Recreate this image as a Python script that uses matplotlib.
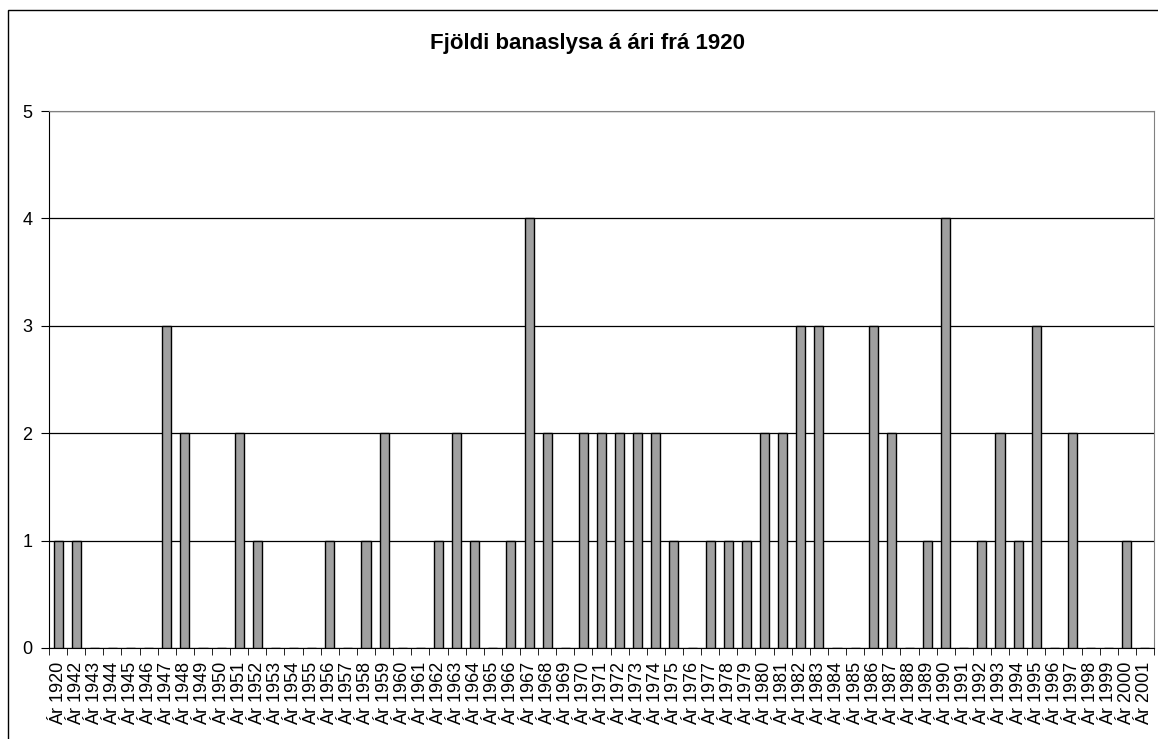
import matplotlib.pyplot as plt
from matplotlib.patches import Rectangle
import numpy as np

years = [1920] + list(range(1942, 2002))
labels = [f"Ár {y}" for y in years]

deaths = {1920: 1, 1942: 1, 1947: 3, 1948: 2, 1951: 2, 1952: 1, 1956: 1,
          1958: 1, 1959: 2, 1962: 1, 1963: 2, 1964: 1, 1966: 1, 1967: 4,
          1968: 2, 1970: 2, 1971: 2, 1972: 2, 1973: 2, 1974: 2, 1975: 1,
          1977: 1, 1978: 1, 1979: 1, 1980: 2, 1981: 2, 1982: 3, 1983: 3,
          1986: 3, 1987: 2, 1989: 1, 1990: 4, 1992: 1, 1993: 2, 1994: 1,
          1995: 3, 1997: 2, 2000: 1}
values = [deaths.get(y, 0) for y in years]

plt.rcParams['font.family'] = ['Liberation Sans', 'DejaVu Sans']

fig = plt.figure(figsize=(11.58, 7.39), dpi=100)
ax = fig.add_axes([49/1158, 1 - 648/739, (1154 - 49)/1158, (648 - 111)/739])

x = np.arange(len(years))
ax.bar(x, values, width=0.5, color='#a0a0a0', edgecolor='black', linewidth=1, zorder=3)

ax.set_xlim(-0.5, len(years) - 0.5)
ax.set_ylim(0, 5)
ax.set_yticks(range(6))
ax.tick_params(axis='y', labelsize=13, length=6, direction='out', pad=6)
ax.yaxis.grid(True, color='black', linewidth=0.9, zorder=1)

ax.set_xticks(x)
ax.set_xticklabels(labels, rotation=90, fontsize=13)
ax.tick_params(axis='x', which='major', length=0, pad=10)
ax.set_xticks(np.arange(len(years) + 1) - 0.5, minor=True)
ax.tick_params(axis='x', which='minor', length=5, direction='out')

for side in ['top', 'right']:
    ax.spines[side].set_color('#808080')
for side in ['left', 'bottom']:
    ax.spines[side].set_color('black')

fig.text(587/1158, 1 - 43/739, 'Fjöldi banaslysa á ári frá 1920',
         ha='center', va='center', fontsize=16, fontweight='bold')

fig.patches.append(Rectangle((8/1158, -0.1), 1.2, 1 - 10/739 + 0.1,
                             transform=fig.transFigure, fill=False,
                             edgecolor='black', linewidth=1))

fig.savefig('out.png', dpi=100)
